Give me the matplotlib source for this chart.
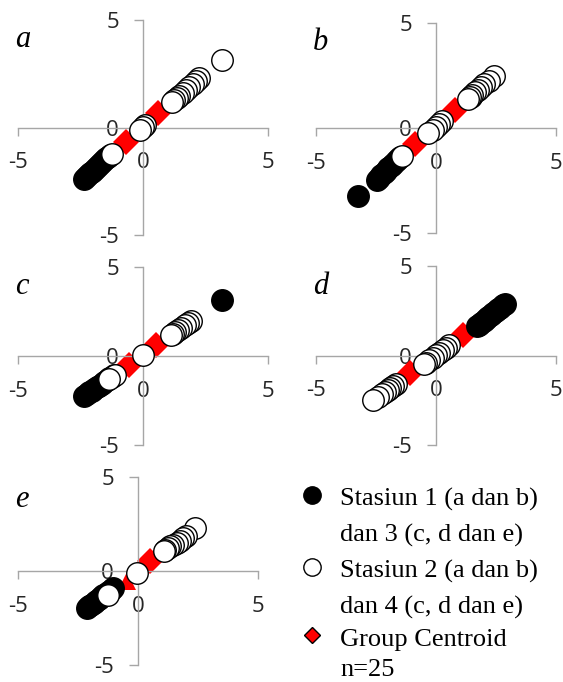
import matplotlib
matplotlib.use("Agg")
import matplotlib.pyplot as plt

# ---------------- data ----------------
tick_vals = [-5, 0, 5]
tick_labels = ["-5", "0", "5"]
panel_names = ["a", "b", "c", "d", "e"]

# panel a
a_st1_x = [-2.36, -2.28, -2.20, -2.12, -2.04, -1.96, -1.88, -1.80, -1.72, -1.64, -1.56, -1.48, -1.40, -1.32]
a_st1_y = [-2.39, -2.30, -2.22, -2.13, -2.05, -1.96, -1.88, -1.79, -1.71, -1.62, -1.53, -1.44, -1.36, -1.28]
a_st2_x = [3.17, 2.25, 2.12, 2.00, 1.85, 1.70, 1.58, 1.45, 1.34, 1.24, 1.16, 0.08, -0.02, -0.14, -1.24]
a_st2_y = [3.15, 2.30, 2.16, 2.04, 1.90, 1.76, 1.62, 1.48, 1.36, 1.26, 1.20, 0.12, 0.02, -0.12, -1.22]
a_cen_x = [0.61, -0.69]
a_cen_y = [0.67, -0.68]

# panel b
b_st1_x = [-3.24, -2.47, -2.38, -2.28, -2.18, -2.08, -1.98, -1.88, -1.78, -1.68, -1.58, -1.48, 1.46]
b_st1_y = [-3.25, -2.46, -2.36, -2.25, -2.14, -2.03, -1.92, -1.81, -1.70, -1.58, -1.47, -1.36, 1.50]
b_st2_x = [2.42, 2.22, 2.02, 1.88, 1.75, 1.62, 1.50, 1.40, 1.34, 0.25, 0.12, 0.00, -0.14, -0.32, -1.43]
b_st2_y = [2.46, 2.26, 2.08, 1.94, 1.82, 1.70, 1.58, 1.46, 1.40, 0.32, 0.18, 0.05, -0.08, -0.22, -1.32]
b_cen_x = [0.79, -0.88]
b_cen_y = [0.87, -0.76]

# panel c
c_st1_x = [-2.36, -2.26, -2.16, -2.06, -1.96, -1.86, -1.76, -1.66, -1.56, -1.46, -1.36, -1.26, -1.16, 3.15]
c_st1_y = [-2.23, -2.14, -2.05, -1.95, -1.86, -1.76, -1.66, -1.56, -1.46, -1.36, -1.26, -1.16, -1.07, 3.16]
c_st2_x = [1.91, 1.78, 1.66, 1.53, 1.40, 1.28, 1.18, 1.10, -0.02, -1.14, -1.38]
c_st2_y = [1.98, 1.85, 1.72, 1.59, 1.46, 1.34, 1.24, 1.16, 0.06, -1.06, -1.30]
c_cen_x = [0.51, -0.56]
c_cen_y = [0.62, -0.51]

# panel d
d_st1_x = [2.87, 2.78, 2.68, 2.58, 2.48, 2.38, 2.28, 2.18, 2.08, 1.98, 1.88, 1.80, 1.72]
d_st1_y = [2.90, 2.80, 2.68, 2.58, 2.46, 2.36, 2.24, 2.14, 2.02, 1.92, 1.80, 1.72, 1.64]
d_st2_x = [0.56, 0.42, 0.28, 0.14, 0.00, -0.14, -0.28, -0.40, -0.50, -1.66, -1.78, -1.90, -2.02, -2.14, -2.26, -2.42, -2.61]
d_st2_y = [0.56, 0.42, 0.28, 0.14, 0.01, -0.13, -0.27, -0.40, -0.46, -1.58, -1.70, -1.82, -1.93, -2.04, -2.16, -2.32, -2.50]
d_cen_x = [1.14, -1.08]
d_cen_y = [1.13, -1.00]

# panel e
e_st1_x = [-2.14, -2.04, -1.94, -1.84, -1.74, -1.64, -1.54, -1.44, -1.34, -1.24, -1.14, -1.05]
e_st1_y = [-1.97, -1.88, -1.79, -1.70, -1.60, -1.50, -1.40, -1.30, -1.20, -1.11, -1.02, -0.93]
e_st2_x = [2.38, 2.00, 1.89, 1.75, 1.61, 1.47, 1.35, 1.24, 1.14, 1.08, -0.06, -1.26]
e_st2_y = [2.29, 1.88, 1.76, 1.62, 1.49, 1.39, 1.31, 1.22, 1.12, 1.08, -0.10, -1.28]
e_cen_x = [0.50]
e_cen_y = [0.52]
e_cen2_x = [-0.47]
e_cen2_y = [-0.52]

legend_texts = ["Stasiun 1 (a dan b)", "dan 3 (c, d dan e)",
                "Stasiun 2 (a dan b)", "dan 4 (c, d dan e)",
                "Group Centroid", "n=25"]

# ---------------- layout ----------------
W, H = 563, 682
fig = plt.figure(figsize=(W / 100, H / 100), dpi=100)
GRAY = "#a6a6a6"
TICKFONT = "Open Sans"

# pixel boxes: (x_left, x_right, y_top, y_bottom) of the axis lines
boxes = [(18, 268, 20, 235), (316, 556, 23, 233), (18, 268, 267, 445),
         (316, 556, 266, 445), (18, 258, 477, 665)]
letter_pos = [(15, 47), (313, 50), (15, 294), (313, 294), (15, 507)]

series = [
    (a_st1_x, a_st1_y, a_st2_x, a_st2_y, a_cen_x, a_cen_y),
    (b_st1_x, b_st1_y, b_st2_x, b_st2_y, b_cen_x, b_cen_y),
    (c_st1_x, c_st1_y, c_st2_x, c_st2_y, c_cen_x, c_cen_y),
    (d_st1_x, d_st1_y, d_st2_x, d_st2_y, d_cen_x, d_cen_y),
    (e_st1_x, e_st1_y, e_st2_x, e_st2_y, e_cen_x, e_cen_y),
]

CIRC = 15.5   # marker diameter in points
DIA = 13.5

for i, (box, data) in enumerate(zip(boxes, series)):
    x0, x1, yt, yb = box
    ax = fig.add_axes([x0 / W, 1 - yb / H, (x1 - x0) / W, (yb - yt) / H])
    ax.set_xlim(-5, 5)
    ax.set_ylim(-5, 5)
    ax.patch.set_visible(False)
    for s in ["top", "right"]:
        ax.spines[s].set_visible(False)
    for s in ["left", "bottom"]:
        ax.spines[s].set_position(("data", 0))
        ax.spines[s].set_color(GRAY)
        ax.spines[s].set_linewidth(1.0)
    ax.set_xticks(tick_vals)
    ax.set_xticklabels(tick_labels, fontfamily=TICKFONT)
    ax.set_yticks(tick_vals)
    ax.set_yticklabels(tick_labels, fontfamily=TICKFONT)
    ax.tick_params(axis="x", direction="out", length=5.8, width=1.0, color=GRAY,
                   pad=12, labelsize=16, labelcolor="#262626")
    ax.tick_params(axis="y", direction="out", length=6.2, width=1.0, color=GRAY,
                   pad=11, labelsize=16, labelcolor="#262626")

    s1x, s1y, s2x, s2y, cx, cy = data
    ax.plot(cx, cy, linestyle="none", marker="D", markersize=DIA,
            markerfacecolor="red", markeredgewidth=0, zorder=2, clip_on=False)
    if i == 4:
        ax.plot(e_cen2_x, e_cen2_y, linestyle="none", marker="^", markersize=13,
                markerfacecolor="red", markeredgewidth=0, zorder=2, clip_on=False)
    ax.plot(s1x, s1y, linestyle="none", marker="o", markersize=CIRC,
            markerfacecolor="black", markeredgecolor="black", markeredgewidth=1.0,
            zorder=3, clip_on=False)
    ax.plot(s2x, s2y, linestyle="none", marker="o", markersize=CIRC,
            markerfacecolor="white", markeredgecolor="black", markeredgewidth=1.0,
            zorder=4, clip_on=False)

    lx, ly = letter_pos[i]
    fig.text(lx / W, 1 - ly / H, panel_names[i], fontfamily="Liberation Serif",
             fontstyle="italic", fontsize=22, ha="left", va="baseline")

# ---------------- legend ----------------
lg = fig.add_axes([0, 0, 1, 1])
lg.set_xlim(0, W)
lg.set_ylim(H, 0)
lg.axis("off")
lg.patch.set_visible(False)
mx = 312
lg.plot([mx], [495], marker="o", markersize=12.5, markerfacecolor="black",
        markeredgecolor="black", linestyle="none")
lg.plot([mx], [567], marker="o", markersize=12.5, markerfacecolor="white",
        markeredgecolor="black", markeredgewidth=1.0, linestyle="none")
lg.plot([mx], [635], marker="D", markersize=8, markerfacecolor="red",
        markeredgecolor="black", markeredgewidth=1.0, linestyle="none")
baselines = [506, 542, 578, 614, 646, 676]
for t, b in zip(legend_texts, baselines):
    lg.text(340, b, t, fontfamily="Liberation Serif", fontsize=19,
            ha="left", va="baseline", color="black")

fig.savefig("out.png", dpi=100)
